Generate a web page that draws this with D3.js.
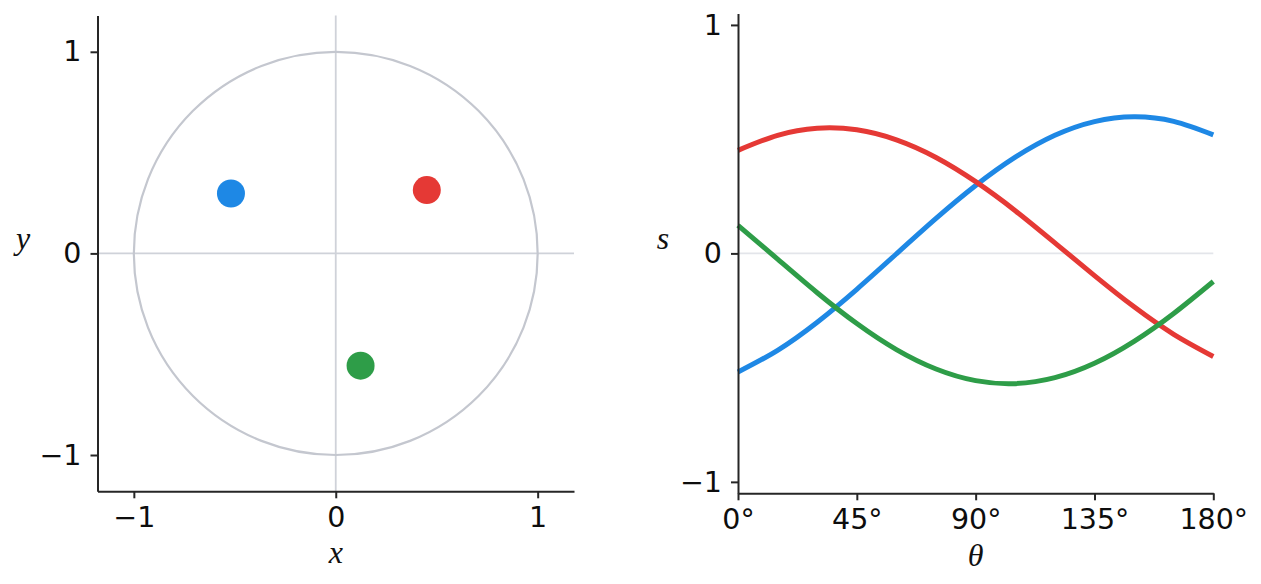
<!DOCTYPE html>
<html>
<head>
<meta charset="utf-8">
<script src="https://cdn.jsdelivr.net/npm/d3@7"></script>
</head>
<body style="margin:0;padding:0;background:#ffffff;">
<script>
// ---- data ----
const pointNames = ["blue", "red", "green"];
const pointX = [-0.519, 0.451, 0.123];
const pointY = [0.297, 0.314, -0.557];
const seriesColors = ["#1e88e5", "#e53935", "#2e9d48"];

const thetaDeg = [0, 15, 30, 45, 60, 75, 90, 105, 120, 135, 150, 165, 180];
const sBlue  = [-0.519, -0.424, -0.301, -0.157, -0.002, 0.153, 0.297, 0.421, 0.517, 0.577, 0.598, 0.578, 0.519];
const sRed   = [0.451, 0.517, 0.548, 0.541, 0.497, 0.420, 0.314, 0.187, 0.046, -0.097, -0.234, -0.354, -0.451];
const sGreen = [0.123, -0.025, -0.172, -0.307, -0.421, -0.506, -0.557, -0.570, -0.544, -0.481, -0.385, -0.263, -0.123];

const unitTicks = [-1, 0, 1];
const unitTickLabels = ["\u22121", "0", "1"];
const angleTicks = [0, 45, 90, 135, 180];
const angleTickLabels = ["0°", "45°", "90°", "135°", "180°"];

const W = 1261, H = 584;
const svg = d3.select("body").append("svg").attr("width", W).attr("height", H).style("display", "block");

const TICK_FONT = 28.5;
const LABEL_FONT = 32;
const INK = "#262626";

function styleAxis(g) {
  g.attr("font-family", "DejaVu Sans").attr("font-size", TICK_FONT);
  g.selectAll(".domain").attr("stroke", INK).attr("stroke-width", 2);
  g.selectAll(".tick line").attr("stroke", INK).attr("stroke-width", 2);
  g.selectAll(".tick text")
    .attr("fill", "#0d0d0d")
    .style("font-family", "'DejaVu Sans', sans-serif")
    .style("font-size", TICK_FONT + "px");
}
function axisLabel(g, x, y, t) {
  g.append("text").attr("x", x).attr("y", y).attr("text-anchor", "middle")
    .attr("fill", "#111111")
    .style("font-family", "'Liberation Serif', serif")
    .style("font-style", "italic")
    .style("font-size", LABEL_FONT + "px")
    .text(t);
}

// ---- left panel ----
const xL = d3.scaleLinear().domain([-1.18, 1.18]).range([97.5, 574]);
const yL = d3.scaleLinear().domain([-1.18, 1.18]).range([491.3, 15.5]);
const gL = svg.append("g");

gL.append("line").attr("x1", xL(-1.18)).attr("x2", xL(1.18)).attr("y1", yL(0)).attr("y2", yL(0))
  .attr("stroke", "#cfd2d9").attr("stroke-width", 1.8);
gL.append("line").attr("x1", xL(0)).attr("x2", xL(0)).attr("y1", yL(-1.18)).attr("y2", yL(1.18))
  .attr("stroke", "#cfd2d9").attr("stroke-width", 1.8);
gL.append("ellipse").attr("cx", xL(0)).attr("cy", yL(0))
  .attr("rx", xL(1) - xL(0)).attr("ry", yL(0) - yL(1))
  .attr("fill", "none").attr("stroke", "#c4c7cf").attr("stroke-width", 2.2);

gL.selectAll("circle.pt").data(pointNames).enter().append("circle")
  .attr("class", "pt")
  .attr("cx", (d, i) => xL(pointX[i]))
  .attr("cy", (d, i) => yL(pointY[i]))
  .attr("r", 14)
  .attr("fill", (d, i) => seriesColors[i]);

gL.append("g").attr("transform", `translate(0,${yL.range()[0]})`)
  .call(d3.axisBottom(xL).tickValues(unitTicks).tickFormat((d, i) => unitTickLabels[i]).tickSize(7).tickSizeOuter(0).tickPadding(8))
  .call(styleAxis);
gL.append("g").attr("transform", `translate(${xL.range()[0]},0)`)
  .call(d3.axisLeft(yL).tickValues(unitTicks).tickFormat((d, i) => unitTickLabels[i]).tickSize(7).tickSizeOuter(0).tickPadding(9))
  .call(styleAxis);

axisLabel(gL, xL(0), 562.5, "x");
axisLabel(gL, 23, 249, "y");

// ---- right panel ----
const xR = d3.scaleLinear().domain([0, 180]).range([738, 1213.3]);
const yR = d3.scaleLinear().domain([-1.05, 1.05]).range([493.3, 13.5]);
const gR = svg.append("g");

gR.append("line").attr("x1", xR(0)).attr("x2", xR(180)).attr("y1", yR(0)).attr("y2", yR(0))
  .attr("stroke", "#e3e5ea").attr("stroke-width", 1.8);

const series = [sBlue, sRed, sGreen];
const lineGen = d3.line()
  .x((d, i) => xR(thetaDeg[i]))
  .y(d => yR(d))
  .curve(d3.curveNatural);

gR.selectAll("path.curve").data(series).enter().append("path")
  .attr("class", "curve")
  .attr("d", d => lineGen(d))
  .attr("fill", "none")
  .attr("stroke", (d, i) => seriesColors[i])
  .attr("stroke-width", 5)
  .attr("stroke-linejoin", "round");

gR.append("g").attr("transform", `translate(0,${yR.range()[0]})`)
  .call(d3.axisBottom(xR).tickValues(angleTicks).tickFormat((d, i) => angleTickLabels[i]).tickSize(7).tickSizeOuter(0).tickPadding(8))
  .call(styleAxis);
gR.append("g").attr("transform", `translate(${xR.range()[0]},0)`)
  .call(d3.axisLeft(yR).tickValues(unitTicks).tickFormat((d, i) => unitTickLabels[i]).tickSize(7).tickSizeOuter(0).tickPadding(9))
  .call(styleAxis);

axisLabel(gR, xR(90), 566, "θ");
axisLabel(gR, 663, 249, "s");
</script>
</body>
</html>
